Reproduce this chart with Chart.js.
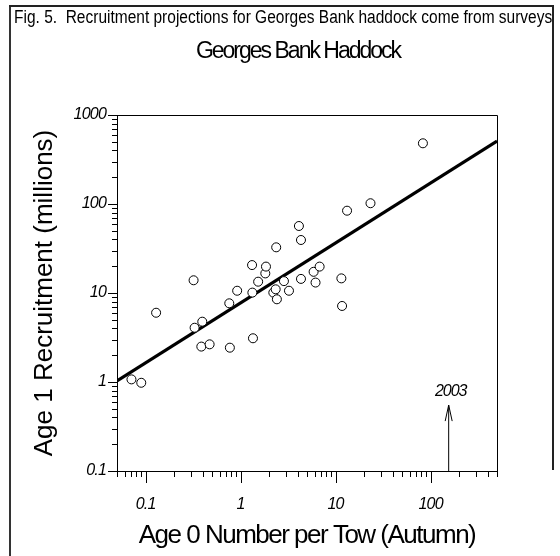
<!DOCTYPE html>
<html>
<head>
<meta charset="utf-8">
<title>Georges Bank Haddock</title>
<script src="https://cdn.jsdelivr.net/npm/chart.js@4"></script>
<style>
  html, body { margin: 0; padding: 0; background: #fff; }
  #wrap { position: relative; width: 560px; height: 556px; overflow: hidden; }
  #chart { position: absolute; left: 0; top: 0; }
  .line { position: absolute; background: #222; }
  #caption {
    position: absolute; left: 14px; top: 7px;
    font: 18px "Liberation Sans", Arial, sans-serif;
    white-space: nowrap; color: #000; transform-origin: 0 0;
  }
  #title {
    position: absolute; left: 148px; width: 300px; top: 39px; text-align: center;
    font: 23px "Liberation Sans", Arial, sans-serif; letter-spacing: -2px;
    line-height: 1; white-space: nowrap; color: #000;
  }
</style>
</head>
<body>
<div id="wrap">
  <canvas id="chart" width="560" height="556"></canvas>
  <div class="line" style="left:9px; top:5px; width:2px; height:551px; background:#333;"></div>
  <div class="line" style="left:9px; top:5px; width:545px; height:1.5px;"></div>
  <div class="line" style="left:552px; top:5px; width:1.5px; height:465px;"></div>
  <div id="caption">Fig. 5.&nbsp; Recruitment projections for Georges Bank haddock come from surveys</div>
  <div id="title">Georges Bank Haddock</div>
</div>
<script>
// age 0 survey index (x) vs age 1 recruitment in millions (y)
const ageZero = [0.071, 0.090, 0.129, 0.32, 0.328, 0.395, 0.386, 0.472, 0.771, 0.76,
  0.92, 1.35, 1.32, 1.33, 1.53, 1.82, 1.85, 2.21, 2.34, 2.41,
  2.37, 2.86, 3.23, 4.11, 4.32, 4.32, 5.87, 6.79, 6.15, 11.5,
  11.7, 13.2, 23.3, 83];
const ageOne = [1.07, 0.98, 6.0, 13.9, 4.07, 4.76, 2.50, 2.65, 2.43, 7.66,
  10.6, 3.10, 20.6, 10.1, 13.4, 16.6, 19.8, 10.1, 11.0, 8.5,
  32.6, 13.6, 10.6, 56.6, 39.4, 14.4, 17.3, 19.8, 13.1, 14.6,
  7.15, 84.1, 102, 481];

// fitted regression (log-log), end points at the axis limits
const fitX = [0.05, 500];
const fitY = [1.03, 510];

// 2003 survey value
const markX = [155, 155];
const markY = [0.1, 0.55];
const markLabel = '2003';

const xTickLabels = ['0.1', '1', '10', '100'];
const yTickLabels = ['0.1', '1', '10', '100', '1000'];
const xRange = [0.05, 500];
const yRange = [0.1, 1000];

// squeeze the caption to the narrow width it has in the figure
const caption = document.getElementById('caption');
caption.style.transform = 'scaleX(' + (538 / caption.offsetWidth) + ')';

const pts = (xs, ys) => xs.map((v, i) => ({ x: v, y: ys[i] }));

const isDecade = v => Math.abs(Math.log10(v) - Math.round(Math.log10(v))) < 1e-6;

function logTicks(min, max) {
  const out = [];
  for (let e = Math.floor(Math.log10(min)); e <= Math.ceil(Math.log10(max)); e++) {
    for (let m = 1; m <= 9; m++) {
      const v = parseFloat((m * Math.pow(10, e)).toPrecision(3));
      if (v >= min * 0.999 && v <= max * 1.001) out.push({ value: v, major: m === 1 });
    }
  }
  return out;
}

function labelFor(list, v) {
  const hit = list.find(l => Math.abs(parseFloat(l) - v) < v * 1e-6);
  return hit || '';
}

const tickFont = { family: '"Liberation Sans", Arial, sans-serif', size: 16, style: 'italic' };

const decor = {
  id: 'decor',
  beforeDraw(chart) {
    const ctx = chart.ctx;
    ctx.letterSpacing = '-0.8px';
    Object.values(chart.scales).forEach(s => {
      if (s._wrapped) return;
      const drawTitle = s.drawTitle.bind(s);
      s.drawTitle = () => {
        ctx.letterSpacing = s.axis === 'x' ? '-1.5px' : '0px';
        drawTitle();
        ctx.letterSpacing = '-0.8px';
      };
      s._wrapped = true;
    });
  },
  afterDraw(chart) {
    const { ctx, chartArea: a, scales: { x, y } } = chart;
    ctx.save();
    ctx.strokeStyle = '#000';
    ctx.lineWidth = 1;
    ctx.beginPath();
    // top and right edges of the plot box
    ctx.moveTo(a.left, a.top + 0.5);
    ctx.lineTo(a.right + 0.5, a.top + 0.5);
    ctx.lineTo(a.right + 0.5, a.bottom);
    x.ticks.forEach(t => {
      const px = Math.round(x.getPixelForValue(t.value)) + 0.5;
      const len = isDecade(t.value) ? 12 : 6;
      ctx.moveTo(px, a.bottom);
      ctx.lineTo(px, a.bottom + len);
    });
    y.ticks.forEach(t => {
      const py = Math.round(y.getPixelForValue(t.value)) + 0.5;
      const len = isDecade(t.value) ? 9 : 5;
      ctx.moveTo(a.left - len, py);
      ctx.lineTo(a.left + 1, py);
    });
    ctx.stroke();

    // arrow head and label for 2003
    const ax = x.getPixelForValue(markX[1]);
    const ay = y.getPixelForValue(markY[1]);
    ctx.beginPath();
    ctx.moveTo(ax - 3.5, ay + 16);
    ctx.lineTo(ax, ay);
    ctx.lineTo(ax + 3.5, ay + 16);
    ctx.stroke();
    ctx.fillStyle = '#000';
    ctx.font = 'italic 16px "Liberation Sans", Arial, sans-serif';
    ctx.letterSpacing = '-1px';
    ctx.textAlign = 'center';
    ctx.textBaseline = 'middle';
    ctx.fillText(markLabel, ax + 2, ay - 14);
    ctx.restore();
  }
};

new Chart(document.getElementById('chart'), {
  type: 'scatter',
  data: {
    datasets: [
      {
        label: 'Survey years',
        data: pts(ageZero, ageOne),
        pointRadius: 4.5,
        pointBorderWidth: 1,
        pointBorderColor: '#000',
        pointBackgroundColor: '#fff'
      },
      {
        type: 'line',
        label: 'Fit',
        data: pts(fitX, fitY),
        borderColor: '#000',
        borderWidth: 3.2,
        pointRadius: 0,
        fill: false
      },
      {
        type: 'line',
        label: markLabel,
        data: pts(markX, markY),
        borderColor: '#000',
        borderWidth: 1,
        pointRadius: 0,
        fill: false
      }
    ]
  },
  options: {
    responsive: false,
    animation: false,
    devicePixelRatio: 1,
    layout: { padding: { top: 115, right: 63, left: 0, bottom: 0 } },
    plugins: { legend: { display: false }, tooltip: { enabled: false } },
    scales: {
      x: {
        type: 'logarithmic',
        min: xRange[0],
        max: xRange[1],
        afterBuildTicks: s => { s.ticks = logTicks(xRange[0], xRange[1]); },
        afterFit: s => { s.height = 85; },
        grid: { display: false, drawTicks: false },
        border: { display: true, color: '#000', width: 1 },
        ticks: {
          autoSkip: false, maxRotation: 0, padding: 24, color: '#000', font: tickFont,
          callback: v => labelFor(xTickLabels, v)
        },
        title: {
          display: true,
          text: 'Age 0 Number per Tow (Autumn)',
          color: '#000',
          font: { family: '"Liberation Sans", Arial, sans-serif', size: 26 },
          padding: { top: 0, bottom: 5 }
        }
      },
      y: {
        type: 'logarithmic',
        min: yRange[0],
        max: yRange[1],
        afterBuildTicks: s => { s.ticks = logTicks(yRange[0], yRange[1]); },
        afterFit: s => { s.width = 117; },
        grid: { display: false, drawTicks: false },
        border: { display: true, color: '#000', width: 1 },
        ticks: {
          autoSkip: false, padding: 11, color: '#000', font: tickFont,
          callback: v => labelFor(yTickLabels, v)
        },
        title: {
          display: true,
          text: 'Age 1 Recruitment (millions)',
          color: '#000',
          font: { family: '"Liberation Sans", Arial, sans-serif', size: 26 },
          padding: { top: 29, bottom: 0 }
        }
      }
    }
  },
  plugins: [decor]
});
</script>
</body>
</html>
